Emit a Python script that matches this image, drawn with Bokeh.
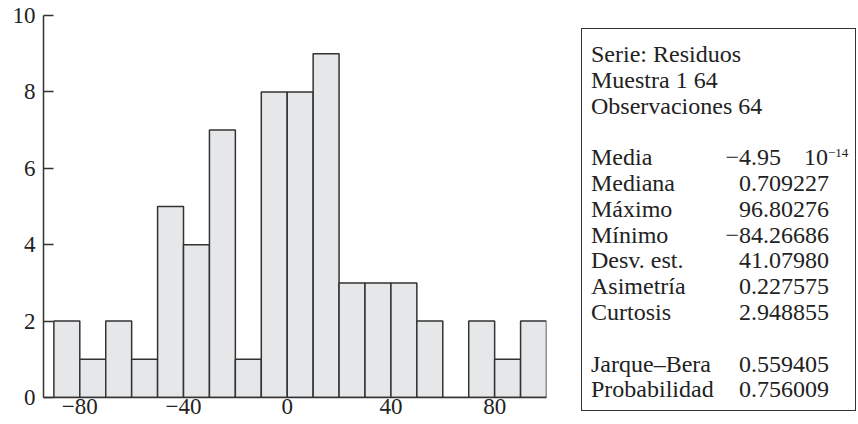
from bokeh.plotting import figure
from bokeh.layouts import row
from bokeh.models import Range1d, FixedTicker, ColumnDataSource, Div
from bokeh.embed import file_html
from bokeh.resources import INLINE

# ---- data ----
bin_edges = [-90, -80, -70, -60, -50, -40, -30, -20, -10, 0, 10, 20, 30, 40, 50, 60, 70, 80, 90, 100]
counts = [2, 1, 2, 1, 5, 4, 7, 1, 8, 8, 9, 3, 3, 3, 2, 0, 2, 1, 2]
x_ticks = [-80, -40, 0, 40, 80]
x_tick_labels = ["\u221280", "\u221240", "0", "40", "80"]
y_ticks = [0, 2, 4, 6, 8, 10]

stat_labels = ["Serie: Residuos", "Muestra 1 64", "Observaciones 64", "",
               "Media", "Mediana", "M\u00e1ximo", "M\u00ednimo", "Desv. est.",
               "Asimetr\u00eda", "Curtosis", "", "Jarque\u2013Bera", "Probabilidad"]
stat_values = ["", "", "", "",
               "\u22124.95", "0.709227", "96.80276", "\u221284.26686", "41.07980",
               "0.227575", "2.948855", "", "0.559405", "0.756009"]
media_exp_base = "10"
media_exp_power = "\u221214"

FONT = "Liberation Serif"
FS = "23px"
BOX_FS = "24px"
TXT = "#222222"
LINE = "#333333"

W, H = 858, 424
W_LEFT = 566

# ---- histogram ----
p = figure(width=W_LEFT, height=H, output_backend="svg", toolbar_location=None,
           x_range=Range1d(-94, 100), y_range=Range1d(0, 10),
           min_border_left=43, min_border_right=20, min_border_top=15, min_border_bottom=27)
p.outline_line_color = None
p.xgrid.visible = False
p.ygrid.visible = False

src = ColumnDataSource(dict(left=bin_edges[:-1], right=bin_edges[1:], top=counts, bottom=[0] * len(counts)))
p.quad(left="left", right="right", top="top", bottom="bottom", source=src,
       fill_color="#e6e7e8", line_color=LINE, line_width=1.5)

for ax in (p.xaxis[0], p.yaxis[0]):
    ax.axis_line_color = LINE
    ax.axis_line_width = 1.5
    ax.major_tick_line_color = LINE
    ax.major_tick_line_width = 1.5
    ax.minor_tick_line_color = None
    ax.major_label_text_font = FONT
    ax.major_label_text_font_size = FS
    ax.major_label_text_color = TXT

p.xaxis[0].ticker = FixedTicker(ticks=x_ticks)
p.xaxis[0].major_label_overrides = {t: l for t, l in zip(x_ticks, x_tick_labels)}
p.xaxis[0].major_tick_in = 0
p.xaxis[0].major_tick_out = 0
p.xaxis[0].major_label_standoff = 1

p.yaxis[0].ticker = FixedTicker(ticks=y_ticks)
p.yaxis[0].major_tick_in = 10
p.yaxis[0].major_tick_out = 0
p.yaxis[0].major_label_standoff = 8

# ---- statistics box (HTML text, positions in pixels of the right panel) ----
W_RIGHT = W - W_LEFT
box_l, box_t, box_w, box_h = 15, 28, 275, 383
first_y, pitch, line_h = 54, 25.8, 26
label_left, value_right = 25, 29
mi = stat_labels.index("Media")

parts = [f'<div style="position:relative;width:{W_RIGHT}px;height:{H}px;'
         f'font-family:\'{FONT}\',serif;font-size:{BOX_FS};color:{TXT};">',
         f'<div style="position:absolute;left:{box_l}px;top:{box_t}px;width:{box_w}px;'
         f'height:{box_h}px;border:1.5px solid {LINE};box-sizing:border-box;"></div>']
cell = "position:absolute;white-space:nowrap;height:{h}px;line-height:{h}px;top:{t:.1f}px;"
for i, (lab, val) in enumerate(zip(stat_labels, stat_values)):
    top = first_y + i * pitch - line_h / 2
    base = cell.format(h=line_h, t=top)
    if lab:
        parts.append(f'<div style="{base}left:{label_left}px;">{lab}</div>')
    if i == mi:
        parts.append(f'<div style="{base}right:77px;">{val}</div>')
        parts.append(f'<div style="{base}left:238px;">{media_exp_base}'
                     f'<span style="position:relative;top:-8px;font-size:13px;">{media_exp_power}</span></div>')
    elif val:
        parts.append(f'<div style="{base}right:{value_right}px;">{val}</div>')
parts.append("</div>")

stats = Div(text="".join(parts), width=W_RIGHT, height=H, margin=(0, 0, 0, 0))

layout = row(p, stats)
open("out.html", "w").write(file_html(layout, INLINE))
